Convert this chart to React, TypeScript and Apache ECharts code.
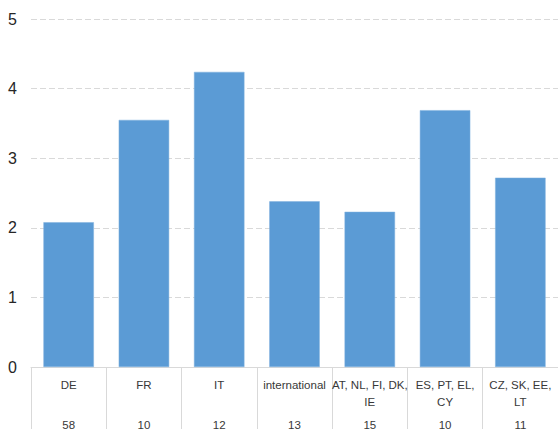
import React, { useEffect, useRef } from "react";
import * as echarts from "echarts";

const categories = [
  "DE",
  "FR",
  "IT",
  "international",
  "AT, NL, FI, DK,\nIE",
  "ES, PT, EL,\nCY",
  "CZ, SK, EE,\nLT",
];
const counts = ["58", "10", "12", "13", "15", "10", "11"];
const values = [2.08, 3.55, 4.24, 2.38, 2.23, 3.69, 2.72];
const yTicks = { min: 0, max: 5, interval: 1 };

export default function App() {
  const ref = useRef<HTMLDivElement>(null);
  useEffect(() => {
    if (!ref.current) return;
    const chart = echarts.init(ref.current, undefined, { renderer: "svg" });
    const textColor = "#383838";
    const font = "'Liberation Sans', Arial, sans-serif";
    chart.setOption({
      animation: false,
      grid: { left: 31, right: -1, top: 19, bottom: 60, containLabel: false },
      xAxis: [
        {
          type: "category",
          data: categories,
          position: "bottom",
          axisLine: { show: true, lineStyle: { color: "#d9d9d9", width: 1 } },
          axisTick: {
            show: true,
            length: 62,
            interval: 0,
            alignWithLabel: false,
            lineStyle: { color: "#d9d9d9", width: 1 },
          },
          axisLabel: {
            interval: 0,
            margin: 9,
            color: textColor,
            fontSize: 11.5,
            fontFamily: font,
            lineHeight: 17,
            verticalAlign: "top",
          },
        },
        {
          type: "category",
          data: counts,
          position: "bottom",
          offset: 0,
          axisLine: { show: false },
          axisTick: { show: false },
          axisLabel: {
            interval: 0,
            margin: 51,
            color: textColor,
            fontSize: 11.5,
            fontFamily: font,
            lineHeight: 14,
            verticalAlign: "top",
          },
        },
      ],
      yAxis: {
        type: "value",
        min: yTicks.min,
        max: yTicks.max,
        interval: yTicks.interval,
        axisLine: { show: false },
        axisTick: { show: false },
        axisLabel: {
          color: "#262626",
          fontSize: 16,
          fontFamily: font,
          margin: 14,
        },
        splitLine: {
          show: true,
          lineStyle: { color: "#d9d9d9", width: 1, type: [6, 3] },
        },
      },
      series: [
        {
          type: "bar",
          data: values,
          xAxisIndex: 0,
          barCategoryGap: "33%",
          itemStyle: { color: "#5b9bd5", borderColor: "#7fb0de", borderWidth: 0.5 },
        },
      ],
    });
    return () => chart.dispose();
  }, []);
  return (
    <div
      ref={ref}
      style={{ position: "fixed", left: 0, top: 0, width: 558, height: 432, background: "#fff" }}
    />
  );
}
